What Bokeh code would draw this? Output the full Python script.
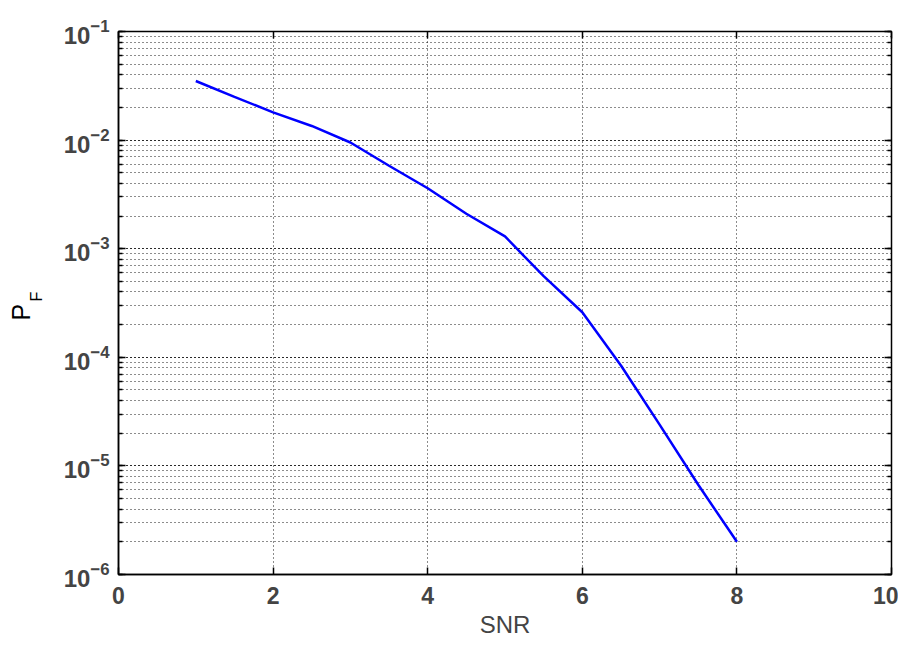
from bokeh.plotting import figure
from bokeh.layouts import row
from bokeh.models import (LogAxis, LinearAxis, FixedTicker, Label, LogTicker,
                          CustomLabelingPolicy)
from bokeh.embed import file_html
from bokeh.resources import INLINE

# data
snr = [1, 1.5, 2, 2.5, 3, 3.5, 4, 4.5, 5, 5.25, 5.5, 6, 6.5, 7, 7.5, 8]
pf = [0.035, 0.025, 0.018, 0.0135, 0.0095, 0.0058, 0.0036, 0.0021, 0.0013,
      0.00085, 0.00056, 0.00026, 8.4e-5, 2.4e-5, 6.7e-6, 2.0e-6]
x_ticks = [0, 2, 4, 6, 8, 10]
x_range = (0, 10)
y_range = (1e-6, 1e-1)
x_label = "SNR"
y_label_main = "P"
y_label_sub = "F"

FONT = "Liberation Sans"
H = 640

p = figure(width=838, height=H, x_range=x_range, y_range=y_range,
           y_axis_type="log", output_backend="svg", toolbar_location=None,
           min_border_left=57, min_border_top=31, min_border_right=6,
           min_border_bottom=63)
p.background_fill_color = "white"
p.border_fill_color = "white"
p.outline_line_color = "black"
p.outline_line_width = 1.5

p.line(snr, pf, line_color="#0000ff", line_width=2.5)

# axes
xa = p.xaxis[0]
xa.ticker = FixedTicker(ticks=x_ticks)
xa.axis_label = x_label
xa.axis_label_text_font = FONT
xa.axis_label_text_font_style = "normal"
xa.axis_label_text_font_size = "24px"
xa.axis_label_standoff = 4
xa.major_label_text_font = FONT
xa.major_label_text_font_style = "bold"
xa.major_label_text_font_size = "23px"
xa.major_label_standoff = 12
xa.major_tick_in = 7
xa.major_tick_out = 0
xa.minor_tick_line_color = None
xa.axis_line_width = 1.5
xa.major_tick_line_width = 1.5

ya = p.yaxis[0]
ya.major_label_text_font = FONT
ya.major_label_text_font_style = "bold"
ya.major_label_text_font_size = "24px"
ya.major_label_standoff = 9
ya.major_tick_in = 7
ya.major_tick_out = 0
ya.minor_tick_in = 4
ya.minor_tick_out = 0
ya.axis_line_width = 1.5
ya.major_tick_line_width = 1.5
ya.minor_tick_line_width = 1.5

hide_all = """
for (const i of indices) { indices.unset(i) }
return indices
"""

# mirrored axes (ticks only)
ra = LogAxis(ticker=LogTicker())
ra.major_label_policy = CustomLabelingPolicy(code=hide_all)
ra.major_label_text_font_size = "2px"
ra.major_label_standoff = 0
ra.major_tick_in = 7
ra.major_tick_out = 0
ra.minor_tick_in = 4
ra.minor_tick_out = 0
ra.axis_line_color = None
ra.major_tick_line_width = 1.5
ra.minor_tick_line_width = 1.5
p.add_layout(ra, "right")

ta = LinearAxis(ticker=FixedTicker(ticks=x_ticks))
ta.major_label_policy = CustomLabelingPolicy(code=hide_all)
ta.major_label_text_font_size = "2px"
ta.major_label_standoff = 0
ta.major_tick_in = 7
ta.major_tick_out = 0
ta.minor_tick_line_color = None
ta.axis_line_color = None
ta.major_tick_line_width = 1.5
p.add_layout(ta, "above")

# grids
p.xgrid.ticker = FixedTicker(ticks=x_ticks)
for g in (p.xgrid[0], p.ygrid[0]):
    g.grid_line_color = "black"
    g.grid_line_alpha = 0.9
    g.grid_line_dash = "1 3"
    g.grid_line_width = 1
p.ygrid.minor_grid_line_color = "black"
p.ygrid.minor_grid_line_alpha = 0.9
p.ygrid.minor_grid_line_dash = "1 3"
p.ygrid.minor_grid_line_width = 1

# narrow strip on the left holding the rotated y label P_F
lab = figure(width=60, height=H, x_range=(0, 1), y_range=(0, 1),
             output_backend="svg", toolbar_location=None,
             x_axis_location=None, y_axis_location=None,
             min_border_left=0, min_border_right=0, min_border_top=0,
             min_border_bottom=0)
lab.outline_line_color = None
lab.grid.visible = False
lab.border_fill_color = "white"
lab.add_layout(Label(x=20, y=254, x_units="screen", y_units="screen",
                     text=y_label_main, angle=1.5708, text_font=FONT,
                     text_font_size="25px", text_align="left",
                     text_baseline="alphabetic", text_color="black"))
lab.add_layout(Label(x=36, y=273, x_units="screen", y_units="screen",
                     text=y_label_sub, angle=1.5708, text_font=FONT,
                     text_font_size="16px", text_align="left",
                     text_baseline="alphabetic", text_color="black"))

layout = row(lab, p)
open("out.html", "w").write(file_html(layout, INLINE))
